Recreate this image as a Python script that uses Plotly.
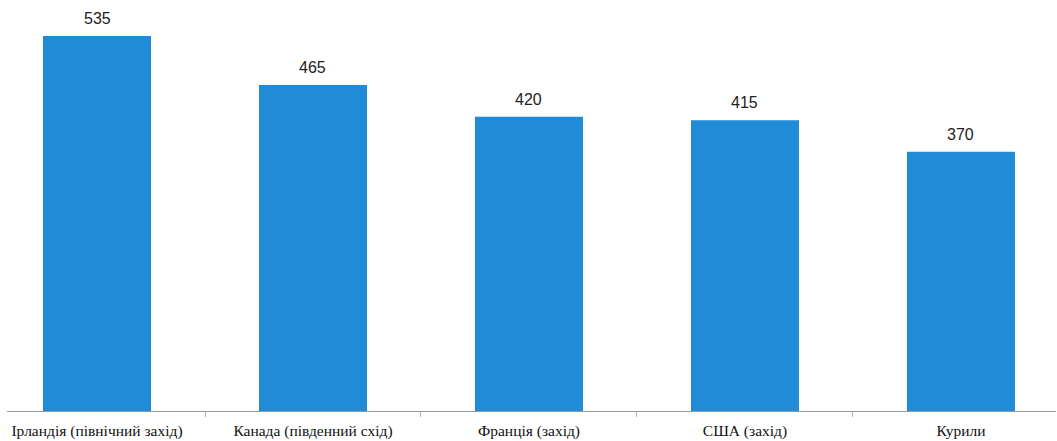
import plotly.graph_objects as go

categories = ["Ірландія (північний захід)", "Канада (південний схід)", "Франція (захід)", "США (захід)", "Курили"]
values = [535, 465, 420, 415, 370]

fig = go.Figure()
fig.add_trace(go.Bar(
    x=categories, y=values,
    marker=dict(color="#218bd7", line=dict(width=0)),
    width=0.5,
))
for c, v in zip(categories, values):
    fig.add_annotation(x=c, y=v, text=str(v), showarrow=False, yanchor="bottom", yshift=7,
                       font=dict(family="Liberation Sans, Arial", size=16, color="#222222"))

fig.update_layout(
    width=1057, height=441,
    margin=dict(l=7, r=1, t=0, b=30),
    plot_bgcolor="white", paper_bgcolor="white",
    showlegend=False,
    xaxis=dict(
        range=[-0.4167, 4.44],
        showline=True, linecolor="#9a9a9a", linewidth=1,
        ticks="outside", tickson="boundaries", ticklen=5, tickcolor="#b0b0b0",
        ticklabelstandoff=5,
        tickfont=dict(family="Liberation Serif, Times New Roman", size=15.5, color="#111111"),
        showgrid=False, zeroline=False,
    ),
    yaxis=dict(range=[0, 586.4], visible=False, showgrid=False, zeroline=False),
)
fig.write_html("out.html")
